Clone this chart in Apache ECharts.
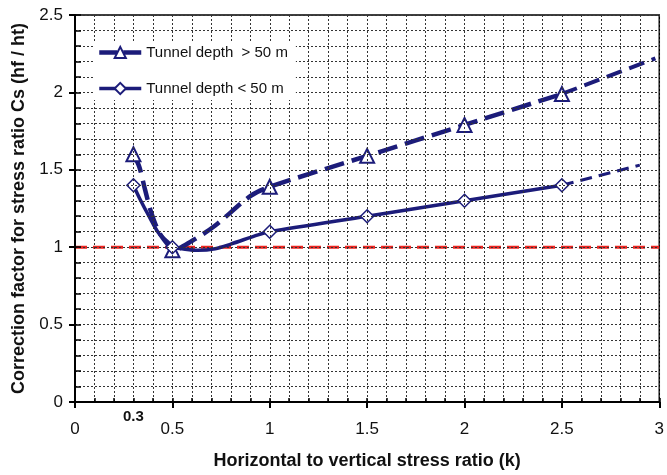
<!DOCTYPE html>
<html>
<head>
<meta charset="utf-8">
<script src="https://cdn.jsdelivr.net/npm/echarts@6/dist/echarts.min.js"></script>
<style>
html,body{margin:0;padding:0;background:#fff;}
#c{width:667px;height:475px;}
</style>
</head>
<body>
<div id="c"></div>
<script>
// ---- data ----
const xTitle = 'Horizontal to vertical stress ratio (k)';
const yTitle = 'Correction factor for stress ratio Cs (hf / ht)';
const deepName = 'Tunnel depth  > 50 m';
const shallowName = 'Tunnel depth < 50 m';

// tunnel depth > 50 m : traced curve (k, Cs)
const deepK  = [0.3, 0.33, 0.36, 0.39, 0.43, 0.48, 0.5, 0.6, 0.72, 0.9, 1.0, 1.5, 2.0, 2.5];
const deepCs = [1.6, 1.52, 1.37, 1.23, 1.1, 1.01, 0.98, 1.04, 1.14, 1.33, 1.39, 1.59, 1.79, 1.99];
// measured points (marked)
const deepMarkedK = [0.3, 0.5, 1.0, 1.5, 2.0, 2.5];
// extrapolation
const deepExtK  = [2.5, 2.98];
const deepExtCs = [1.99, 2.22];

// tunnel depth < 50 m
const shallowK  = [0.3, 0.33, 0.38, 0.43, 0.48, 0.5, 0.55, 0.63, 0.72, 0.8, 0.94, 1.0, 1.5, 2.0, 2.5];
const shallowCs = [1.4, 1.32, 1.2, 1.09, 1.03, 1.0, 0.99, 0.98, 0.99, 1.02, 1.08, 1.1, 1.2, 1.3, 1.4];
const shallowMarkedK = [0.3, 0.5, 1.0, 1.5, 2.0, 2.5];
const shallowExtK  = [2.5, 2.9];
const shallowExtCs = [1.4, 1.53];

// reference line Cs = 1
const refK  = [0, 3];
const refCs = [1, 1];

const xMajorTicks = [0, 0.5, 1, 1.5, 2, 2.5, 3];
const yMajorTicks = [0, 0.5, 1, 1.5, 2, 2.5];
const specialXLabel = 0.3;

// ---- build ----
const NAVY = '#1c1c7a';
const FONT = '"Liberation Sans", Arial, sans-serif';

function pts(ks, vs, marked) {
  return ks.map((k, i) => {
    const item = { value: [k, vs[i]] };
    if (marked && !marked.some(m => Math.abs(m - k) < 1e-9)) item.symbol = 'none';
    return item;
  });
}
function fmt(v) {
  const r = Math.round(v * 10) / 10;
  return String(r);
}

const chart = echarts.init(document.getElementById('c'), null, { renderer: 'canvas' });
chart.setOption({
  animation: false,
  backgroundColor: '#fff',
  textStyle: { fontFamily: FONT },
  grid: { left: 75, right: 5, top: 15, bottom: 67, show: true, borderColor: '#000', borderWidth: 1.5, backgroundColor: '#fff' },
  legend: {
    data: [
      { name: deepName, lineStyle: { width: 4.5, type: [18, 6] } },
      { name: shallowName, lineStyle: { width: 3.5 } }
    ],
    orient: 'vertical',
    left: 93, top: 41,
    z: 20,
    backgroundColor: '#fff',
    padding: [4, 8, 4, 4],
    itemGap: 21,
    itemWidth: 42,
    itemHeight: 14,
    textStyle: { fontSize: 15, color: '#111', fontFamily: FONT }
  },
  xAxis: [
    {
      type: 'value', min: 0, max: 3, interval: 0.5, position: 'bottom',
      axisLine: { show: true, lineStyle: { color: '#000', width: 2 } },
      axisTick: { show: true, inside: false, length: 6, lineStyle: { color: '#000', width: 2 } },
      axisLabel: { fontSize: 17, color: '#111', margin: 19, formatter: v => xMajorTicks.some(t => Math.abs(t - v) < 1e-9) ? fmt(v) : '' },
      splitLine: { show: false },
      name: xTitle, nameLocation: 'middle', nameGap: 50,
      nameTextStyle: { fontSize: 18, fontWeight: 'bold', color: '#111' },
      z: 5
    },
    {
      type: 'value', min: 0, max: 3, interval: 0.1, position: 'bottom',
      axisLine: { show: false },
      axisTick: { show: true, inside: true, length: 4, lineStyle: { color: '#000', width: 1.5 } },
      axisLabel: { fontSize: 15, fontWeight: 'bold', color: '#111', margin: 7,
        formatter: v => Math.abs(v - specialXLabel) < 1e-9 ? fmt(v) : '' },
      splitLine: { show: true, lineStyle: { color: '#333', width: 1, type: [2, 2] } },
      z: 4
    }
  ],
  yAxis: [
    {
      type: 'value', min: 0, max: 2.5, interval: 0.5, position: 'left',
      axisLine: { show: true, lineStyle: { color: '#000', width: 2 } },
      axisTick: { show: true, inside: false, length: 6, lineStyle: { color: '#000', width: 2 } },
      axisLabel: { fontSize: 17, color: '#111', margin: 12, formatter: v => yMajorTicks.some(t => Math.abs(t - v) < 1e-9) ? fmt(v) : '' },
      splitLine: { show: false },
      name: yTitle, nameLocation: 'middle', nameGap: 44,
      nameTextStyle: { fontSize: 18, fontWeight: 'bold', color: '#111' },
      z: 5
    },
    {
      type: 'value', min: 0, max: 2.5, interval: 0.1, position: 'left',
      axisLine: { show: false },
      axisTick: { show: true, inside: true, length: 6, lineStyle: { color: '#000', width: 1.5 } },
      axisLabel: { show: false },
      splitLine: { show: true, lineStyle: { color: '#333', width: 1, type: [2, 2] } },
      z: 4
    }
  ],
  series: [
    {
      name: 'ref', type: 'line', data: pts(refK, refCs), symbol: 'none', silent: true,
      lineStyle: { color: '#ec2420', width: 3, type: [12, 6] }, z: 2
    },
    {
      name: deepName, type: 'line', data: pts(deepK, deepCs, deepMarkedK), smooth: 0.3,
      symbol: 'triangle', symbolSize: 14,
      itemStyle: { color: '#fff', borderColor: NAVY, borderWidth: 2 },
      lineStyle: { color: NAVY, width: 4.5, type: [20, 8] }, z: 3
    },
    {
      name: 'deepExt', type: 'line', data: pts(deepExtK, deepExtCs), symbol: 'none',
      lineStyle: { color: NAVY, width: 4, type: [16, 8] }, z: 3
    },
    {
      name: shallowName, type: 'line', data: pts(shallowK, shallowCs, shallowMarkedK), smooth: 0.3,
      symbol: 'diamond', symbolSize: 13,
      itemStyle: { color: '#fff', borderColor: NAVY, borderWidth: 1.5 },
      lineStyle: { color: NAVY, width: 3.5, type: 'solid' }, z: 3
    },
    {
      name: 'shallowExt', type: 'line', data: pts(shallowExtK, shallowExtCs), symbol: 'none',
      lineStyle: { color: NAVY, width: 3, type: [12, 7] }, z: 3
    }
  ]
});
</script>
</body>
</html>
